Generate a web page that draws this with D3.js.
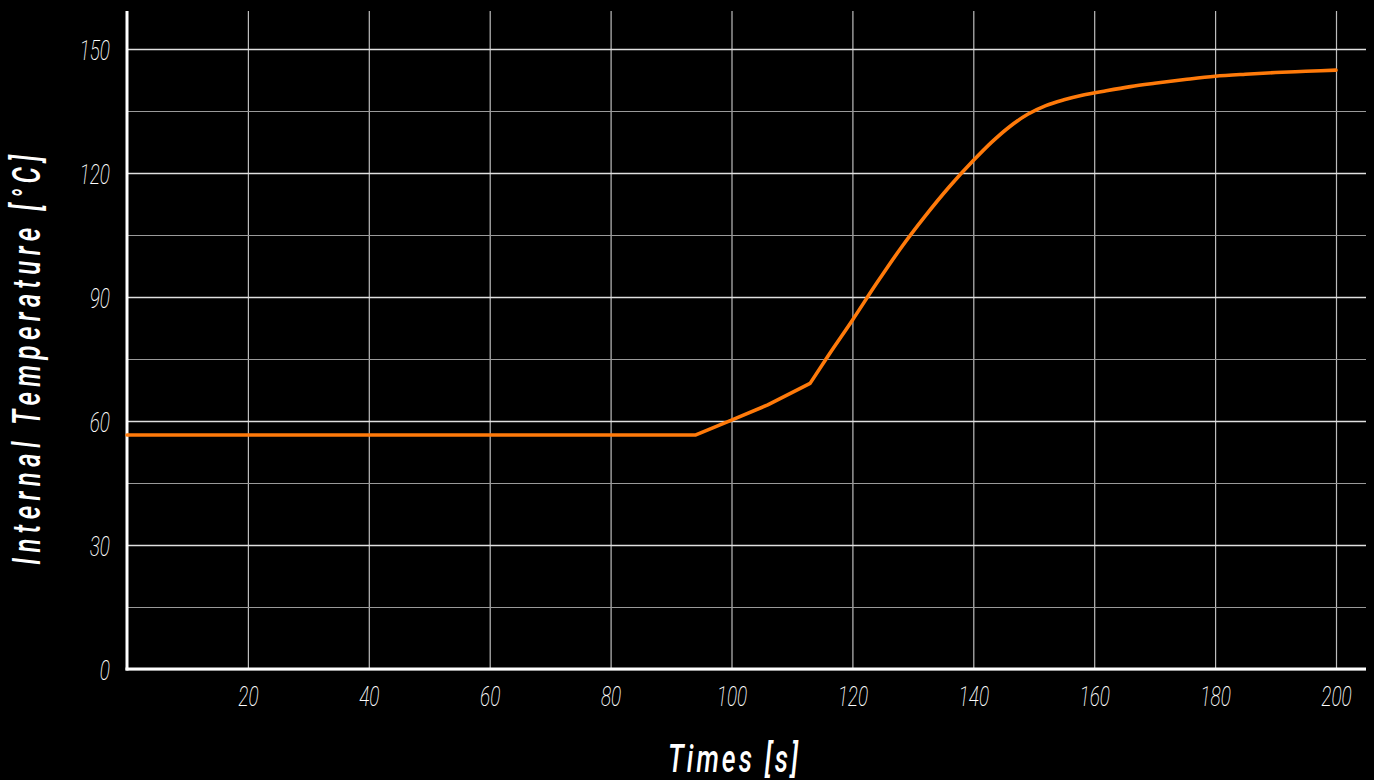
<!DOCTYPE html>
<html>
<head>
<meta charset="utf-8">
<script src="https://cdn.jsdelivr.net/npm/d3@7"></script>
<style>
  html, body { margin: 0; padding: 0; background: #000; }
  svg { display: block; }
</style>
</head>
<body>
<svg id="chart" width="1374" height="780"></svg>
<script>
// Internal temperature over time
const timeS = [0, 94, 100, 106, 113, 116, 120, 124, 128, 132, 136, 140, 143, 146, 149, 152, 155, 158, 162, 166, 170, 175, 180, 185, 190, 195, 200];
const tempC = [56.6, 56.6, 60.2, 63.9, 69.1, 75.8, 84.4, 93.3, 101.8, 109.5, 116.6, 123.0, 127.4, 131.2, 134.2, 136.3, 137.7, 138.8, 139.9, 140.9, 141.7, 142.6, 143.4, 143.9, 144.3, 144.6, 144.9];

const xTicks = [20, 40, 60, 80, 100, 120, 140, 160, 180, 200];
const yTicks = [0, 30, 60, 90, 120, 150];
const yGrid = [0, 15, 30, 45, 60, 75, 90, 105, 120, 135, 150];

const xTitle = "Times [s]";
const yTitle = "Internal Temperature [°C]";

const svg = d3.select("#chart");
const plotLeft = 127, plotRight = 1366, plotTop = 11, plotBottom = 669;
const squeeze = 0.68; // horizontal condensing of lettering

const x = d3.scaleLinear().domain([0, 200]).range([plotLeft, 1336]);
const y = d3.scaleLinear().domain([0, 150]).range([plotBottom, 49]);

svg.append("rect").attr("width", 1374).attr("height", 780).attr("fill", "#000");

function tickStyle(sel) {
  sel.attr("fill", "#fff")
    .style("font-family", "Roboto")
    .style("font-weight", 200)
    .style("font-style", "italic")
    .style("font-size", "28px");
}

// vertical grid + x tick labels
const xAxis = svg.append("g")
  .attr("transform", `translate(0,${plotBottom})`)
  .call(d3.axisBottom(x).tickValues(xTicks).tickSize(-(plotBottom - plotTop)).tickFormat(d3.format("d")));
xAxis.select(".domain").remove();
xAxis.selectAll(".tick line").attr("stroke", "#bdbdbd").attr("stroke-width", 1.2);
xAxis.selectAll(".tick text")
  .attr("y", 0).attr("dy", 0)
  .attr("transform", `translate(0,37) scale(${squeeze},1)`)
  .call(tickStyle);

// horizontal grid + y tick labels
const yAxis = svg.append("g")
  .attr("transform", `translate(${plotLeft},0)`)
  .call(d3.axisLeft(y).tickValues(yGrid).tickSize(-(plotRight - plotLeft))
    .tickFormat(d => yTicks.includes(d) ? d3.format("d")(d) : ""));
yAxis.select(".domain").remove();
yAxis.selectAll(".tick line")
  .attr("stroke", d => yTicks.includes(d) ? "#e0e0e0" : "#9a9a9a")
  .attr("stroke-width", d => yTicks.includes(d) ? 1.6 : 1.2);
yAxis.selectAll(".tick text")
  .attr("x", 0).attr("dy", "0.36em")
  .attr("transform", `translate(-17,0) scale(${squeeze},1)`)
  .attr("text-anchor", "end")
  .call(tickStyle);

// axis lines
svg.append("line").attr("x1", plotLeft).attr("x2", plotLeft).attr("y1", plotTop).attr("y2", plotBottom + 1.5)
  .attr("stroke", "#fff").attr("stroke-width", 3);
svg.append("line").attr("x1", plotLeft - 1.5).attr("x2", plotRight).attr("y1", plotBottom).attr("y2", plotBottom)
  .attr("stroke", "#fff").attr("stroke-width", 3);

// temperature curve: straight ramp up to the kink, smooth rise afterwards
const points = timeS.map((t, i) => [t, tempC[i]]);
const kink = timeS.indexOf(113);
const linear = d3.line().x(d => x(d[0])).y(d => y(d[1])).curve(d3.curveLinear);
const smooth = d3.line().x(d => x(d[0])).y(d => y(d[1])).curve(d3.curveMonotoneX);
svg.append("path")
  .attr("fill", "none")
  .attr("stroke", "#ff7a0a")
  .attr("stroke-width", 3.6)
  .attr("stroke-linejoin", "round")
  .attr("stroke-linecap", "round")
  .attr("d", linear(points.slice(0, kink + 1)) + smooth(points.slice(kink)));

// axis titles
svg.append("text")
  .attr("transform", `translate(668,772) scale(${squeeze},1)`)
  .attr("textLength", 130 / squeeze).attr("lengthAdjust", "spacing")
  .attr("fill", "#fff")
  .style("font-family", "Roboto")
  .style("font-weight", 500)
  .style("font-style", "italic")
  .style("font-size", "39px")
  .text(xTitle);

svg.append("text")
  .attr("transform", `translate(40,565) rotate(-90) scale(${squeeze},1)`)
  .attr("textLength", 410 / squeeze).attr("lengthAdjust", "spacing")
  .attr("fill", "#fff")
  .style("font-family", "Roboto")
  .style("font-weight", 500)
  .style("font-style", "italic")
  .style("font-size", "38px")
  .text(yTitle);
</script>
</body>
</html>
